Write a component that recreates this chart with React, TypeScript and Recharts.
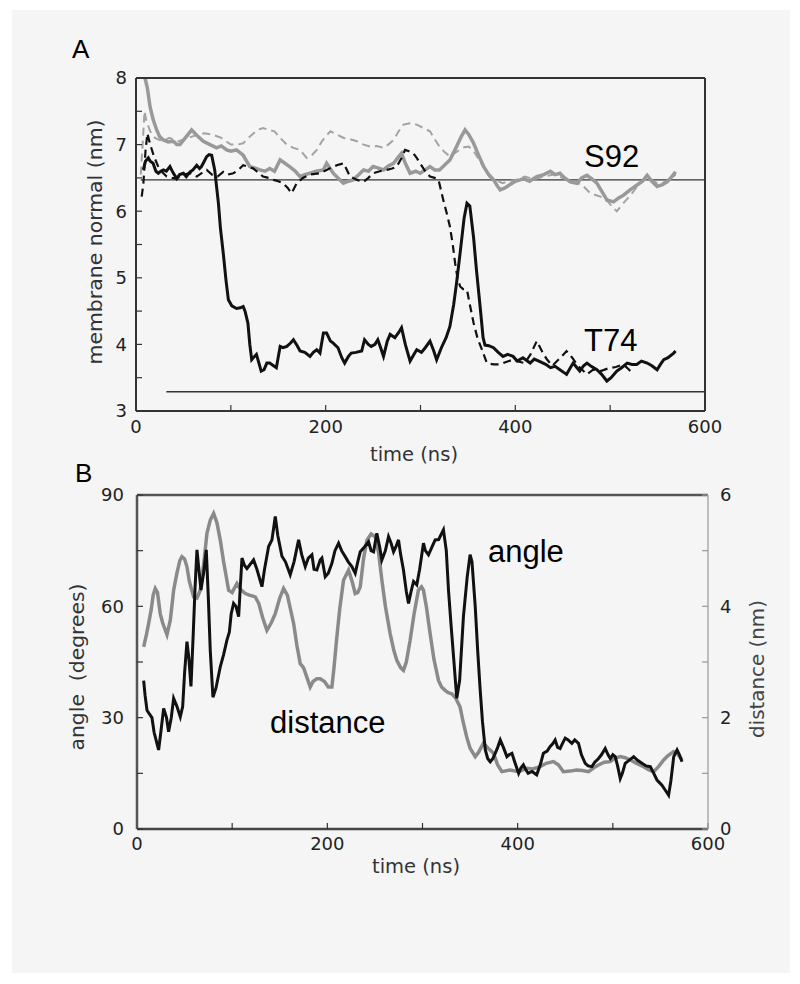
import { Line, LineChart, XAxis, YAxis } from "recharts";

type Pt = [number, number];

// axis ticks
const timeTicks = [0, 100, 200, 300, 400, 500, 600];
const timeLabels = [0, 200, 400, 600];
const normalTicks = [3, 3.5, 4, 4.5, 5, 5.5, 6, 6.5, 7, 7.5, 8];
const normalLabels = [3, 4, 5, 6, 7, 8];
const angleTicks = [0, 15, 30, 45, 60, 75, 90];
const angleLabels = [0, 30, 60, 90];
const distTicks = [0, 1, 2, 3, 4, 5, 6];
const distLabels = [0, 2, 4, 6];

// panel A: position along membrane normal (nm) vs time (ns)
const s92Solid: Pt[] = [
  [9.5, 8.0], [12, 7.85], [14.8, 7.57], [18, 7.38], [21.8, 7.22], [25, 7.12], [28.8, 7.07], [34, 7.04],
  [39.4, 7.05], [43, 7.0], [46.4, 7.0], [52, 7.1], [58.7, 7.22], [64, 7.14], [71, 7.05], [78, 7.0],
  [85, 6.95], [90, 6.98], [95.6, 6.92], [100, 6.9], [106, 6.92], [113, 6.84], [120, 6.67], [125, 6.65],
  [130.8, 6.62], [136, 6.6], [141, 6.64], [146, 6.6], [152, 6.77], [157, 6.72], [162, 6.67], [168, 6.6],
  [173, 6.52], [178, 6.55], [183.5, 6.57], [190, 6.6], [197.6, 6.62], [201, 6.72], [208, 6.57], [213, 6.5],
  [218.7, 6.42], [224, 6.45], [229, 6.47], [235, 6.55], [240, 6.62], [245, 6.6], [250, 6.67], [255, 6.65],
  [261, 6.62], [266, 6.68], [271.6, 6.72], [276, 6.8], [280, 6.87], [284, 6.72], [289, 6.57], [295, 6.6],
  [299.6, 6.57], [305, 6.62], [310, 6.67], [315, 6.62], [320, 6.62], [326, 6.7], [331, 6.77], [338, 6.97],
  [343, 7.12], [347, 7.22], [351, 7.15], [356, 7.02], [361, 6.85], [366.6, 6.67], [372, 6.55], [377, 6.47],
  [381, 6.38], [384, 6.32], [389, 6.35], [394.5, 6.4], [400, 6.45], [405, 6.47], [408.6, 6.49], [415, 6.45],
  [422.6, 6.52], [430, 6.55], [437, 6.6], [442, 6.55], [447, 6.57], [452, 6.5], [458, 6.44], [465, 6.42],
  [470, 6.5], [475.5, 6.54], [481, 6.48], [486, 6.42], [491, 6.3], [496.5, 6.17], [503.5, 6.14], [509, 6.2],
  [514, 6.24], [521, 6.32], [528, 6.39], [534, 6.45], [539, 6.54], [544, 6.45], [549.5, 6.37], [555, 6.4],
  [560, 6.44], [565, 6.52], [569, 6.59],
];

const s92Dashed: Pt[] = [
  [5, 6.55], [7, 7.0], [9, 7.5], [11, 7.35], [15, 7.2], [20, 7.1], [28, 7.05], [35, 7.1], [45, 7.05],
  [55, 7.1], [65, 7.15], [72, 7.17], [81, 7.15], [90, 7.1], [100, 7.0], [107, 7.0], [113, 7.02], [120, 7.12],
  [128, 7.22], [134, 7.25], [140, 7.22], [146, 7.2], [152, 7.1], [159, 7.0], [166, 6.95], [173, 6.92],
  [180, 6.8], [186, 6.85], [190.6, 6.92], [196, 7.05], [201, 7.14], [205, 7.2], [212, 7.15], [219, 7.1],
  [226, 7.08], [233, 7.05], [240, 7.0], [247, 6.97], [254, 6.98], [261, 6.95], [266, 7.0], [271.6, 7.07],
  [277, 7.2], [282, 7.3], [289, 7.32], [296, 7.3], [303, 7.25], [310, 7.2], [315, 7.08], [320, 6.97],
  [326, 6.88], [331, 6.82], [336, 6.87], [341, 6.92], [346, 6.96], [351, 6.97], [356, 6.9], [362, 6.77],
  [367, 6.65], [372.5, 6.52], [379, 6.47], [386.5, 6.42], [393, 6.45], [401, 6.47], [410, 6.52], [420, 6.48],
  [430, 6.52], [440, 6.55], [450, 6.5], [460, 6.45], [470, 6.4], [479, 6.27], [489.7, 6.22], [498, 6.14],
  [503, 6.05], [507, 6.0], [514, 6.12], [522, 6.25], [530, 6.4], [539, 6.5], [549.5, 6.42], [560, 6.44],
  [569, 6.55],
];

const t74Solid: Pt[] = [
  [7.7, 6.62], [10, 6.75], [13, 6.8], [15, 6.75], [18, 6.72], [21, 6.6], [23.5, 6.57], [26, 6.6], [29, 6.62],
  [32, 6.6], [35.8, 6.67], [39, 6.58], [43, 6.49], [46, 6.55], [50, 6.57], [53, 6.52], [57, 6.59], [60, 6.62],
  [64, 6.69], [67, 6.64], [69, 6.67], [72, 6.75], [74.5, 6.82], [77, 6.85], [79.8, 6.84], [83, 6.62],
  [86.9, 6.12], [89, 5.75], [92, 5.37], [95, 4.95], [97.4, 4.67], [101, 4.58], [106, 4.54], [110, 4.55],
  [113, 4.57], [115, 4.5], [118, 4.32], [120, 4.0], [122, 3.77], [125, 3.82], [127, 3.85], [130, 3.7],
  [132, 3.6], [135, 3.62], [138, 3.72], [141, 3.72], [145, 3.68], [148, 3.65], [152, 3.97], [155, 3.95],
  [159, 3.97], [163, 4.02], [166, 4.07], [170, 3.98], [173, 3.9], [178, 3.88], [183.5, 3.82], [187, 3.88],
  [190.6, 3.92], [194, 3.87], [197.6, 4.17], [201, 4.17], [205, 4.05], [208, 4.02], [213, 3.95], [217, 3.8],
  [220, 3.72], [224, 3.82], [227, 3.87], [232, 3.88], [238, 3.9], [241, 4.07], [245, 4.0], [248, 3.97],
  [252, 4.0], [255, 4.07], [258, 3.95], [261, 3.82], [265, 4.05], [268, 4.15], [273, 4.1], [277, 4.18],
  [280, 4.25], [284, 4.0], [289, 3.75], [293, 3.85], [296, 3.92], [301, 3.88], [305, 3.95], [310, 4.05],
  [314, 3.9], [317, 3.77], [322, 3.95], [327, 4.1], [331, 4.27], [335, 4.6], [338, 4.92], [342, 5.4],
  [346, 5.9], [349, 6.12], [352, 6.08], [356, 5.6], [359, 5.12], [363, 4.55], [366, 4.1], [368, 3.99],
  [372, 3.98], [377, 3.95], [382, 3.88], [387, 3.82], [392, 3.85], [397.6, 3.82], [402, 3.75], [408, 3.8],
  [415.6, 3.72], [420, 3.78], [426, 3.74], [432, 3.7], [437, 3.65], [442, 3.67], [447, 3.62], [451, 3.58],
  [454, 3.55], [458, 3.65], [461, 3.72], [465, 3.65], [468, 3.6], [472, 3.68], [475.5, 3.72], [480, 3.67],
  [486, 3.62], [491, 3.55], [496.5, 3.45], [501, 3.5], [507, 3.6], [512, 3.65], [518, 3.72], [523, 3.7],
  [528, 3.7], [533, 3.75], [539, 3.72], [544, 3.68], [549.5, 3.62], [553, 3.7], [556.5, 3.77], [561, 3.8],
  [567, 3.87], [569, 3.9],
];

const t74Dashed: Pt[] = [
  [6, 6.22], [7.7, 6.4], [10, 6.9], [12, 7.17], [15, 7.0], [19, 6.82], [24, 6.65], [28, 6.58], [32.4, 6.52],
  [38, 6.5], [43, 6.49], [50, 6.55], [57, 6.57], [64, 6.52], [70, 6.58], [74.5, 6.62], [80, 6.55], [86, 6.52],
  [92, 6.59], [97, 6.55], [102.7, 6.57], [108, 6.62], [113, 6.69], [118, 6.67], [123.7, 6.64], [129, 6.58],
  [134, 6.52], [140, 6.5], [145, 6.47], [150, 6.45], [155, 6.42], [160, 6.35], [164, 6.27], [169.5, 6.42],
  [176, 6.5], [183, 6.55], [194, 6.57], [201, 6.62], [208, 6.67], [214, 6.7], [219, 6.72], [225.7, 6.52],
  [233, 6.47], [240, 6.44], [245, 6.5], [250, 6.57], [257, 6.6], [264.6, 6.62], [270, 6.64], [275, 6.67],
  [280, 6.8], [283.7, 6.92], [288, 6.9], [292.5, 6.87], [296, 6.8], [299.6, 6.72], [305, 6.6], [310, 6.52],
  [315, 6.5], [319, 6.47], [324, 6.17], [328, 5.95], [331, 5.77], [334, 5.5], [336.5, 5.22], [339, 5.0],
  [341.8, 4.87], [345, 4.83], [349, 4.82], [352, 4.6], [356, 4.32], [360, 4.1], [364.8, 3.92], [370, 3.72],
  [377, 3.7], [384, 3.7], [391, 3.74], [397.6, 3.77], [404, 3.74], [410, 3.72], [416, 3.85], [422.6, 4.05],
  [428, 3.9], [433, 3.78], [439, 3.68], [444, 3.75], [449, 3.82], [454, 3.9], [460, 3.8], [466, 3.68],
  [475.5, 3.55], [482, 3.62], [490, 3.6], [498, 3.64], [506, 3.66], [514, 3.7], [520, 3.62], [524.5, 3.55],
];

// reference levels drawn in panel A
const upperLevel: Pt[] = [[5, 6.47], [600, 6.47]];
const lowerLevel: Pt[] = [[32, 3.29], [600, 3.29]];

// panel B: angle (degrees) and distance (nm) vs time (ns)
const angle: Pt[] = [
  [7, 40], [8.5, 36], [10.5, 32], [13, 31], [15.7, 30], [18, 26], [20, 24], [22.7, 21.3], [25, 26], [28, 32.5],
  [31, 30], [33.2, 26.2], [36, 30], [38.5, 35.2], [42, 33], [45.5, 30.2], [48, 33], [50, 42], [52.5, 50.5],
  [54.5, 46], [56.7, 38.4], [59, 52], [61, 65], [63, 75.2], [65, 70], [67.2, 64.4], [70, 69], [72.8, 75.2],
  [75, 62], [77, 48], [79.8, 35.5], [83, 38], [87.5, 43.7], [91, 47], [94.5, 50.9], [97, 53], [99, 58],
  [101.5, 60.8], [104, 60], [106.8, 57.2], [108.5, 65], [110.3, 73], [113, 71], [115.5, 70.2], [118, 71],
  [122.5, 72.5], [126, 70], [131.3, 65.3], [134, 70], [138.3, 76.1], [141.8, 77.9], [145.3, 84.2], [148, 79],
  [152.3, 73.5], [156, 72], [161, 68.5], [165, 72], [169.8, 77.9], [173, 74], [176.8, 70.7], [180, 73],
  [183.8, 73.9], [186, 70], [189, 69.8], [192.5, 72.5], [194.3, 73], [197.8, 68], [201, 68.9], [204.8, 71.6],
  [208, 75], [211.8, 77], [215, 75], [218.8, 73.4], [222, 72], [225.8, 70.7], [229.3, 68.9], [232, 72],
  [234.6, 74.7], [239, 76], [243.3, 77.4], [246, 75], [248.6, 74.7], [252, 79.7], [255, 76], [257.3, 72.5],
  [261, 75], [264.3, 78.8], [267, 77], [269.6, 74.7], [272, 76], [274.8, 77.9], [277, 74], [280, 69.8],
  [283, 64], [285.3, 60.8], [288, 64], [290.6, 66.7], [294, 65.8], [297, 70], [301, 77], [303, 75],
  [306.3, 73.9], [310, 76], [313.3, 77.9], [317, 78], [322, 80.6], [325, 75], [327.3, 64.4], [330, 55],
  [332.6, 46.5], [336, 35.2], [339, 40], [343, 57.2], [347, 68], [350, 73.9], [352, 72], [355.4, 60], [358, 48],
  [360.6, 37.5], [363, 29], [366, 21.3], [368.5, 19], [371.2, 18.1], [374, 19], [376.4, 20.4], [379, 22],
  [381.7, 24], [385, 22], [388.7, 19.5], [391, 20], [394, 20.4], [397, 18], [401, 15], [403.5, 16.5],
  [406, 17.3], [408.5, 16], [411, 15], [415, 15.5], [420, 14.6], [424, 17.5], [427, 20.4], [431, 21],
  [434, 22.2], [437, 23], [439.4, 24], [442, 22], [444.6, 21.7], [447, 23], [450, 24.5], [453, 24],
  [456.9, 23.1], [460, 24], [463.9, 23.1], [467, 20], [471, 17.7], [474, 17], [478, 16.8], [481, 18], [485, 19],
  [488, 20], [492, 21.7], [495, 20], [497.3, 19], [500, 20], [502.5, 19.5], [505, 17], [507.8, 13.6], [510, 15],
  [513, 17.7], [517, 18.5], [521.9, 19.5], [526, 18.5], [530.6, 17.7], [535, 17], [539.4, 16.8], [543, 15],
  [546.4, 13.2], [549, 12.5], [551.6, 11.8], [555, 10.5], [558.6, 9.1], [561, 13], [564, 19.5], [567.5, 21.3],
  [570, 20], [572.7, 18.1],
];

const distance: Pt[] = [
  [7, 3.27], [10, 3.5], [12.2, 3.69], [15, 3.95], [17, 4.2], [19.2, 4.32], [21.5, 4.25], [24.4, 3.87], [27, 3.7],
  [31.5, 3.49], [35, 3.75], [38.5, 4.29], [42, 4.6], [45, 4.82], [47.2, 4.89], [50, 4.85], [52.5, 4.71],
  [55, 4.45], [59.5, 4.17], [63, 4.15], [66.5, 4.29], [70, 4.75], [73.5, 5.31], [77, 5.55], [80.5, 5.67],
  [84, 5.5], [87.5, 5.19], [91, 4.8], [96.3, 4.29], [100, 4.25], [105, 4.41], [109, 4.3], [113.8, 4.23],
  [118, 4.2], [124.3, 4.17], [128, 4.05], [132, 3.8], [136.5, 3.57], [141, 3.7], [145.3, 3.87], [150, 4.15],
  [154, 4.32], [158, 4.2], [164.6, 3.69], [168, 3.3], [171.5, 2.97], [175, 2.9], [178, 2.75], [182, 2.55],
  [185, 2.65], [189, 2.7], [192.5, 2.7], [197, 2.65], [201, 2.55], [204.8, 2.55], [207, 2.9], [210, 3.45],
  [213, 3.95], [217, 4.47], [222.3, 4.65], [226, 4.45], [229.3, 4.23], [232, 4.25], [234.6, 4.35], [238, 4.85],
  [241.6, 5.19], [246, 5.3], [250.4, 5.25], [254, 4.95], [257.3, 4.47], [261, 4.0], [266, 3.51], [270, 3.2],
  [273, 3.03], [277, 2.9], [280, 2.85], [283, 3.0], [287, 3.39], [291, 3.85], [295.7, 4.29], [299, 4.35],
  [301, 4.29], [304, 4.0], [308, 3.51], [312, 3.05], [316.8, 2.67], [320, 2.55], [323.8, 2.49], [327, 2.45],
  [330.8, 2.43], [335, 2.35], [339.5, 2.19], [343, 1.9], [346.5, 1.65], [350, 1.45], [355.4, 1.3], [359, 1.38],
  [364, 1.54], [369, 1.45], [374.6, 1.36], [379, 1.15], [383.4, 1.03], [392, 1.06], [401, 1.03], [409.6, 1.09],
  [416, 1.08], [423.6, 1.12], [430, 1.18], [437.6, 1.21], [443, 1.15], [448, 1.03], [455, 1.04], [462, 1.06],
  [468, 1.05], [474.5, 1.03], [480, 1.1], [485, 1.15], [491, 1.2], [497.3, 1.21], [502, 1.27], [507.8, 1.3],
  [513, 1.28], [518.4, 1.24], [525, 1.18], [532.4, 1.12], [538, 1.06], [542.9, 1.03], [548, 1.12],
  [553.4, 1.24], [558, 1.32], [564, 1.39], [568, 1.35], [572.7, 1.24],
];

const rows = (pts: Pt[]) => pts.map(([t, v]) => ({ t, v }));

const only = (keep: number[]) => (v: number) => (keep.includes(v) ? String(v) : "");
const blank = () => "";

const tickFont = { fontFamily: "DejaVu Sans", fontSize: 18, fill: "#222" };
const dark = { stroke: "#333", strokeWidth: 2 };
const tickMark = { stroke: "#333", strokeWidth: 1.2 };

const titleFont = { fontFamily: "DejaVu Sans", fontSize: 19, fill: "#333" };
const noteFont = { fontFamily: "Liberation Sans, Arial, sans-serif", fontSize: 31, fill: "#000" };

export default function App() {
  return (
    <div style={{ position: "absolute", left: 0, top: 0, width: 800, height: 984, background: "#fff" }}>
      <div style={{ position: "absolute", left: 12, top: 10, width: 778, height: 963, background: "#f5f5f5" }} />

      {/* panel A */}
      <div style={{ position: "absolute", left: 0, top: 0 }}>
        <LineChart width={800} height={480} margin={{ top: 77, right: 0, bottom: 0, left: 0 }}>
          <XAxis
            xAxisId="b"
            dataKey="t"
            type="number"
            domain={[0, 600]}
            ticks={timeTicks}
            interval={0}
            tickFormatter={only(timeLabels)}
            tick={tickFont}
            tickSize={-6}
            tickMargin={15}
            axisLine={dark}
            tickLine={tickMark}
            height={69}
          />
          <XAxis
            xAxisId="top"
            orientation="top"
            type="number"
            domain={[0, 600]}
            ticks={timeTicks}
            interval={0}
            tickFormatter={blank}
            tick={tickFont}
            tickSize={-6}
            axisLine={dark}
            tickLine={tickMark}
            height={1}
          />
          <YAxis
            yAxisId="l"
            type="number"
            domain={[3, 8]}
            ticks={normalTicks}
            interval={0}
            tickFormatter={only(normalLabels)}
            tick={tickFont}
            tickSize={-6}
            tickMargin={15}
            axisLine={dark}
            tickLine={tickMark}
            width={136}
          />
          <YAxis
            yAxisId="r"
            orientation="right"
            type="number"
            domain={[3, 8]}
            ticks={normalTicks}
            interval={0}
            tickFormatter={blank}
            tick={tickFont}
            tickSize={-6}
            axisLine={dark}
            tickLine={tickMark}
            width={95}
          />
          <Line xAxisId="b" yAxisId="l" data={rows(upperLevel)} dataKey="v" stroke="#333" strokeWidth={1.4} dot={false} isAnimationActive={false} />
          <Line xAxisId="b" yAxisId="l" data={rows(lowerLevel)} dataKey="v" stroke="#333" strokeWidth={1.4} dot={false} isAnimationActive={false} />
          <Line xAxisId="b" yAxisId="l" data={rows(s92Dashed)} dataKey="v" stroke="#a3a3a3" strokeWidth={2} strokeDasharray="8 5" dot={false} isAnimationActive={false} />
          <Line xAxisId="b" yAxisId="l" data={rows(s92Solid)} dataKey="v" stroke="#999" strokeWidth={3.5} dot={false} isAnimationActive={false} />
          <Line xAxisId="b" yAxisId="l" data={rows(t74Dashed)} dataKey="v" stroke="#111" strokeWidth={2.2} strokeDasharray="8 5" dot={false} isAnimationActive={false} />
          <Line xAxisId="b" yAxisId="l" data={rows(t74Solid)} dataKey="v" stroke="#111" strokeWidth={3} dot={false} isAnimationActive={false} />
        </LineChart>
      </div>

      {/* panel B */}
      <div style={{ position: "absolute", left: 0, top: 480 }}>
        <LineChart width={800} height={420} margin={{ top: 14, right: 0, bottom: 0, left: 0 }}>
          <XAxis
            xAxisId="b"
            dataKey="t"
            type="number"
            domain={[0, 600]}
            ticks={timeTicks}
            interval={0}
            tickFormatter={only(timeLabels)}
            tick={tickFont}
            tickSize={-6}
            tickMargin={14}
            axisLine={{ stroke: "#444", strokeWidth: 2.5 }}
            tickLine={tickMark}
            height={71}
          />
          <XAxis
            xAxisId="top"
            orientation="top"
            type="number"
            domain={[0, 600]}
            ticks={timeTicks}
            interval={0}
            tickFormatter={blank}
            tick={tickFont}
            tickSize={-6}
            axisLine={{ stroke: "#555", strokeWidth: 2.5 }}
            tickLine={tickMark}
            height={1}
          />
          <YAxis
            yAxisId="left"
            type="number"
            domain={[0, 90]}
            ticks={angleTicks}
            interval={0}
            tickFormatter={only(angleLabels)}
            tick={tickFont}
            tickSize={-6}
            tickMargin={19}
            axisLine={{ stroke: "#555", strokeWidth: 2.5 }}
            tickLine={tickMark}
            width={137}
          />
          <YAxis
            yAxisId="right"
            orientation="right"
            type="number"
            domain={[0, 6]}
            ticks={distTicks}
            interval={0}
            tickFormatter={only(distLabels)}
            tick={tickFont}
            tickSize={-6}
            tickMargin={18}
            axisLine={{ stroke: "#aaa", strokeWidth: 1.5 }}
            tickLine={{ stroke: "#999", strokeWidth: 1.2 }}
            width={92}
          />
          <Line xAxisId="b" yAxisId="right" data={rows(distance)} dataKey="v" stroke="#8a8a8a" strokeWidth={3.5} dot={false} isAnimationActive={false} />
          <Line xAxisId="b" yAxisId="left" data={rows(angle)} dataKey="v" stroke="#111" strokeWidth={3} dot={false} isAnimationActive={false} />
        </LineChart>
      </div>

      {/* titles and annotations */}
      <svg width={800} height={984} style={{ position: "absolute", left: 0, top: 0, pointerEvents: "none" }}>
        <text x={72} y={58} style={{ ...noteFont, fontSize: 26 }}>A</text>
        <text x={75} y={482} style={{ ...noteFont, fontSize: 26 }}>B</text>
        <text x={584} y={167} style={noteFont}>S92</text>
        <text x={584} y={351} style={noteFont}>T74</text>
        <text x={488} y={562} style={noteFont}>angle</text>
        <text x={270} y={733} style={noteFont}>distance</text>

        <text x={414} y={461} textAnchor="middle" textLength={88} lengthAdjust="spacingAndGlyphs" style={titleFont}>time (ns)</text>
        <text x={416} y={873} textAnchor="middle" textLength={88} lengthAdjust="spacingAndGlyphs" style={titleFont}>time (ns)</text>
        <text
          transform="translate(102 242) rotate(-90)"
          textAnchor="middle"
          textLength={245}
          lengthAdjust="spacingAndGlyphs"
          style={titleFont}
        >
          membrane normal (nm)
        </text>
        <text
          transform="translate(84 667) rotate(-90)"
          textAnchor="middle"
          textLength={167}
          lengthAdjust="spacingAndGlyphs"
          style={{ ...titleFont, whiteSpace: "pre" }}
        >
          {"angle  (degrees)"}
        </text>
        <text
          transform="translate(764 669) rotate(-90)"
          textAnchor="middle"
          textLength={138}
          lengthAdjust="spacingAndGlyphs"
          style={{ ...titleFont, fill: "#444" }}
        >
          distance (nm)
        </text>
      </svg>
    </div>
  );
}
